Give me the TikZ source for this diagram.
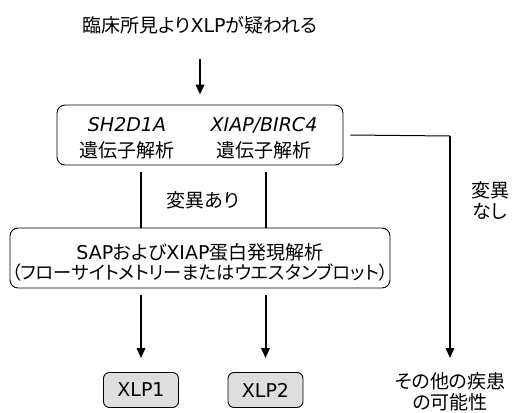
\documentclass[tikz,border=0pt]{standalone}
\usepackage{fontspec}
\setmainfont[RawFeature=+palt]{Noto Sans CJK JP}
\newfontfamily\dv{DejaVu Sans}
\usetikzlibrary{arrows.meta,calc}
\tikzset{
  txt/.style={font=\fontsize{19}{21}\selectfont, inner sep=0pt, align=center},
  rbox/.style={draw, line width=0.9pt, rounded corners=8pt, inner sep=0pt},
  gbox/.style={draw, line width=0.9pt, rounded corners=6pt, fill=black!13, minimum width=75pt, minimum height=35pt, inner sep=0pt, font=\fontsize{19}{21}\selectfont},
  link/.style={line width=2pt},
  thinlink/.style={line width=1pt},
  arr/.style={line width=2pt, -{Triangle[length=10pt,width=8.5pt]}}
}
\begin{document}
\begin{tikzpicture}[x=1pt,y=-1pt]
\useasboundingbox (0,0) rectangle (516,412);
% top text
\node[txt] (top) at (200,25) {臨床所見より{\dv XLP}が疑われる};
% box 1
\node[rbox, minimum width=286pt, minimum height=60pt] (box1) at (200,135) {};
\node[txt] (g1a) at (127,125) {\dv\itshape SH2D1A};
\node[txt] (g1b) at (127,150) {遺伝子解析};
\node[txt] (g2a) at (264,125) {\dv\itshape XIAP/BIRC4};
\node[txt] (g2b) at (264,150) {遺伝子解析};
% box 2
\node[rbox, minimum width=380pt, minimum height=60pt] (box2) at (200,258) {};
\node[txt] (p1) at (200,252) {{\dv SAP}および{\dv XIAP}蛋白発現解析};
\node[txt, font=\fontsize{18.3}{21}\selectfont] (p2) at (200,273) {（フローサイトメトリーまたはウエスタンブロット）};
% result boxes
\node[gbox] (xlp1) at (141,390) {\dv XLP1};
\node[gbox] (xlp2) at (265.5,390) {\dv XLP2};
\node[txt] (other) at (450,392) {その他の疾患\\の可能性};
% labels
\node[txt] (ari) at (203,200) {変異あり};
\node[txt] (nashi) at (490,201) {変異\\なし};
% connectors
\draw[arr] ([yshift=-25]top.south) -- ([yshift=10]box1.north);
\draw[link] ([yshift=-7]box1.south -| xlp1) -- (box2.north -| xlp1);
\draw[link] ([yshift=-7]box1.south -| xlp2) -- (box2.north -| xlp2);
\draw[arr] ([yshift=-7]box2.south -| xlp1) -- ([yshift=14]xlp1.north);
\draw[arr] ([yshift=-7]box2.south -| xlp2) -- ([yshift=14]xlp2.north);
\coordinate (corner) at (450,136);
\draw[thinlink] ([xshift=7]box1.east) -- (corner);
\draw[arr] ([yshift=0.5]corner) -- (other.north |- 0,358);
\end{tikzpicture}
\end{document}
